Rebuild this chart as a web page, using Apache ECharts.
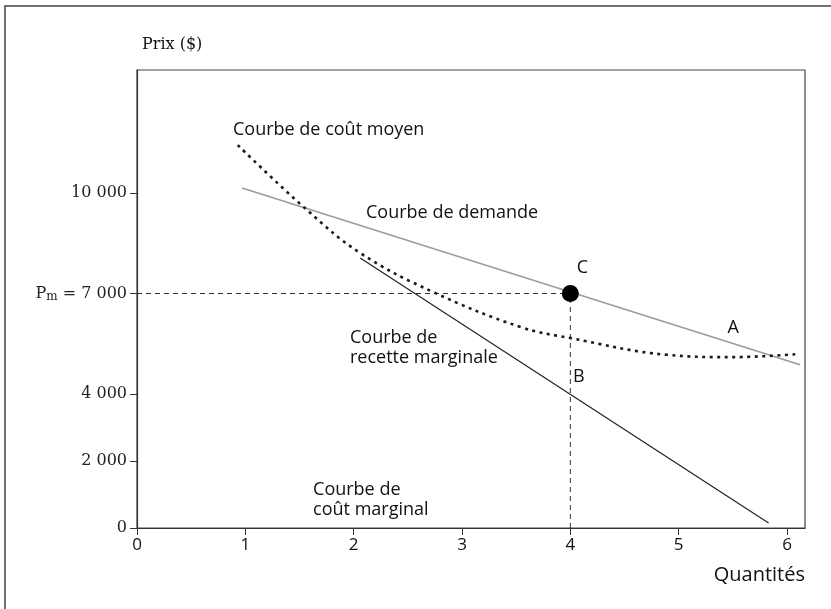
<!DOCTYPE html>
<html>
<head>
<meta charset="utf-8">
<script src="https://cdn.jsdelivr.net/npm/echarts@6/dist/echarts.min.js"></script>
<style>
  html, body { margin: 0; padding: 0; background: #fff; }
  #chart { width: 831px; height: 609px; }
</style>
</head>
<body>
<div id="chart"></div>
<script>
// quantities on x, price ($) on y
var demand = [[0.97, 10150], [6.12, 4870]]
var recetteMarginale = [[2.06, 8060], [5.83, 150]]
var coutMoyen = [
  [0.93, 11430], [1.57, 9490], [2.06, 8210], [2.73, 7050], [3.54, 6000],
  [4.0, 5670], [4.89, 5170], [5.5, 5100], [6.09, 5190]
]
var pointC = [[4, 7000]]
var prixMonopole = 7000
var quantiteMonopole = 4

var xTicks = [0, 1, 2, 3, 4, 5, 6]
var yTicks = [0, 2000, 4000, 7000, 10000]

// text notes, in data units
var notes = [
  { text: 'Courbe de coût moyen', q: 0.886, p: 11880 },
  { text: 'Courbe de demande', q: 2.114, p: 9400 },
  { text: 'C', q: 4.06, p: 7760 },
  { text: 'A', q: 5.45, p: 5970 },
  { text: 'B', q: 4.025, p: 4500 },
  { text: 'Courbe de\nrecette marginale', q: 1.966, p: 5390 },
  { text: 'Courbe de\ncoût marginal', q: 1.625, p: 850 }
]

var sansFont = '"Open Sans", sans-serif'
var serifFont = '"DejaVu Serif", serif'

function fmtNum(v) {
  return String(v).replace(/\B(?=(\d{3})+(?!\d))/g, ' ')
}

var chart = echarts.init(document.getElementById('chart'))

var option = {
  animation: false,
  backgroundColor: '#fff',
  graphic: [
    {
      // outer frame of the scanned page
      type: 'rect',
      shape: { x: 5, y: 6, width: 840, height: 620 },
      style: { fill: 'none', stroke: '#444', lineWidth: 1.5 },
      z: -1
    }
  ],
  grid: {
    left: 137, top: 70, right: 26, bottom: 81,
    show: true, borderColor: '#444', borderWidth: 1.2
  },
  xAxis: {
    type: 'value',
    min: 0,
    max: 6.166,
    name: 'Quantités',
    nameLocation: 'end',
    nameGap: 0,
    nameTextStyle: {
      fontFamily: sansFont, fontSize: 20, color: '#111',
      align: 'right', verticalAlign: 'top', padding: [37, 0, 0, 0]
    },
    splitLine: { show: false },
    axisLine: { lineStyle: { color: '#333', width: 1.2 } },
    axisTick: { show: true, customValues: xTicks, length: 7, lineStyle: { color: '#333' } },
    axisLabel: {
      customValues: xTicks,
      margin: 9,
      fontFamily: sansFont, fontSize: 17, color: '#111'
    }
  },
  yAxis: {
    type: 'value',
    min: 0,
    max: 13672,
    name: 'Prix ($)',
    nameLocation: 'end',
    nameGap: 17,
    nameTextStyle: {
      fontFamily: serifFont, fontSize: 16, color: '#111',
      align: 'left', padding: [0, 0, 0, 5]
    },
    splitLine: { show: false },
    axisLine: { lineStyle: { color: '#333', width: 1.2 } },
    axisTick: { show: true, customValues: yTicks, length: 7, lineStyle: { color: '#333' } },
    axisLabel: {
      customValues: yTicks,
      margin: 10,
      fontFamily: serifFont, fontSize: 16, color: '#222',
      formatter: function (v) {
        if (v === prixMonopole) return '{n|P}{s|m}{n| = ' + fmtNum(v) + '}'
        return fmtNum(v)
      },
      rich: {
        n: { fontFamily: serifFont, fontSize: 16, color: '#222' },
        s: { fontFamily: serifFont, fontSize: 12, color: '#222', verticalAlign: 'bottom', padding: [6, 0, 0, 0] }
      }
    }
  },
  series: [
    {
      name: 'Courbe de demande',
      type: 'line',
      data: demand,
      symbol: 'none',
      lineStyle: { color: '#9c9c9c', width: 1.6 },
      z: 2
    },
    {
      name: 'Courbe de recette marginale',
      type: 'line',
      data: recetteMarginale,
      symbol: 'none',
      lineStyle: { color: '#222', width: 1.2 },
      z: 2
    },
    {
      name: 'Courbe de coût moyen',
      type: 'line',
      data: coutMoyen,
      smooth: 0.4,
      symbol: 'none',
      lineStyle: { color: '#1a1a1a', width: 2.6, type: [3, 4.5] },
      z: 3
    },
    {
      name: 'guide horizontal',
      type: 'line',
      data: [[0, prixMonopole], [quantiteMonopole, prixMonopole]],
      symbol: 'none',
      lineStyle: { color: '#333', width: 1, type: [5, 4] },
      z: 1
    },
    {
      name: 'guide vertical',
      type: 'line',
      data: [[quantiteMonopole, 0], [quantiteMonopole, prixMonopole]],
      symbol: 'none',
      lineStyle: { color: '#333', width: 1, type: [5, 4] },
      z: 1
    },
    {
      name: 'C',
      type: 'scatter',
      data: pointC,
      symbol: 'circle',
      symbolSize: 17,
      itemStyle: { color: '#000', opacity: 1 },
      z: 5
    },
    {
      name: 'notes',
      type: 'scatter',
      symbol: 'circle',
      symbolSize: 0,
      itemStyle: { color: '#111', opacity: 1 },
      data: notes.map(function (n) { return { value: [n.q, n.p], name: n.text } }),
      label: {
        show: true,
        position: 'right',
        distance: 0,
        align: 'left',
        verticalAlign: 'middle',
        formatter: function (p) { return p.name },
        fontFamily: sansFont,
        fontSize: 18,
        lineHeight: 20,
        color: '#111',
        opacity: 1,
        textBorderWidth: 0
      },
      z: 6
    }
  ]
}

chart.setOption(option)
</script>
</body>
</html>
